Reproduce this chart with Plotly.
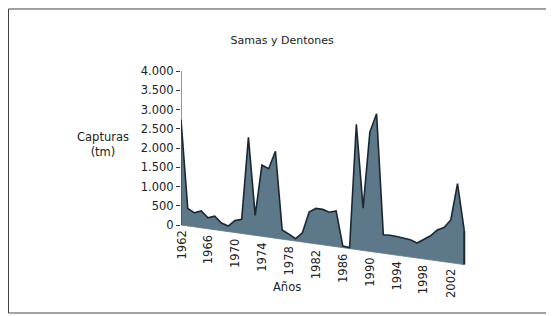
import plotly.graph_objects as go

# ---- data ----
YEARS = list(range(1962, 2005))
CAPTURAS = [2740, 455, 365, 440, 285, 350, 200, 145, 310, 370,
            2520, 520, 1850, 1780, 2260, 240, 155, 60, 240, 800,
            920, 920, 870, 930, 40, 30, 3250, 1100, 3100, 3600,
            480, 495, 485, 465, 450, 390, 500, 625, 800, 890,
            1110, 2080, 880]
TICK_YEARS = list(range(1962, 2003, 4))
Y_TICKS = [0, 500, 1000, 1500, 2000, 2500, 3000, 3500, 4000]
Y_TICK_TEXT = ["0", "500", "1.000", "1.500", "2.000", "2.500", "3.000", "3.500", "4.000"]

# ---- styling / perspective ----
SKEW = 24.5          # apparent drop of the 3D floor per year (value units)
FILL = "#5d7889"
EDGE = "#1c2731"
FONT = "DejaVu Sans"
TXT = "#222222"

def floor(yr):
    return -SKEW * (yr - YEARS[0])

base = [floor(y) for y in YEARS]
top = [v + b for v, b in zip(CAPTURAS, base)]

fig = go.Figure()
fig.add_trace(go.Scatter(x=YEARS, y=base, mode="lines",
                         line=dict(width=0.8, color=FILL), hoverinfo="skip",
                         showlegend=False))
fig.add_trace(go.Scatter(x=YEARS, y=top, mode="lines", fill="tonexty",
                         fillcolor=FILL, line=dict(color=EDGE, width=1.6),
                         showlegend=False))
# right end face of the 3D area
fig.add_trace(go.Scatter(x=[YEARS[-1], YEARS[-1]], y=[top[-1], base[-1]],
                         mode="lines", line=dict(color=EDGE, width=2),
                         showlegend=False))

ann = []
for yr in TICK_YEARS:
    ann.append(dict(x=yr, y=floor(yr), xref="x", yref="y", text=str(yr),
                    textangle=-90, showarrow=False, xanchor="center",
                    yanchor="top", yshift=-4,
                    font=dict(family=FONT, size=11.5, color=TXT)))
ann.append(dict(x=-0.269, y=0.6, xref="paper", yref="paper",
                text="Capturas<br>(tm)", showarrow=False, align="center",
                xanchor="center", yanchor="middle",
                font=dict(family=FONT, size=11.5, color=TXT)))
ann.append(dict(x=0.3655, y=-0.081, xref="paper", yref="paper", text="Años",
                showarrow=False, xanchor="center", yanchor="middle",
                font=dict(family=FONT, size=11.5, color=TXT)))

shapes = [
    dict(type="line", xref="x", yref="y", x0=YEARS[0], x1=YEARS[0],
         y0=Y_TICKS[0], y1=Y_TICKS[-1], line=dict(color="#333333", width=1)),
    dict(type="rect", xref="paper", yref="paper", x0=-0.5948, x1=1.2655,
         y0=-0.2048, y1=1.2429, line=dict(color="#444444", width=1)),
]

# page body has an 8px margin, so the figure is 8px smaller than the window
fig.update_layout(
    width=546, height=308,
    margin=dict(l=173, r=83, t=52, b=46),
    paper_bgcolor="white", plot_bgcolor="white",
    title=dict(text="Samas y Dentones", x=0.502, xanchor="center",
               y=0.896, yanchor="middle",
               font=dict(family=FONT, size=11, color=TXT)),
    xaxis=dict(range=[1962, 2005], showgrid=False, zeroline=False,
               showticklabels=False, ticks="", showline=False),
    yaxis=dict(range=[-1169, 4286], showgrid=False, zeroline=False,
               showline=False, tickvals=Y_TICKS, ticktext=Y_TICK_TEXT,
               ticks="outside", ticklen=4, tickcolor="#333333",
               tickfont=dict(family=FONT, size=11.5, color=TXT)),
    annotations=ann, shapes=shapes,
)

fig.write_html("out.html")
